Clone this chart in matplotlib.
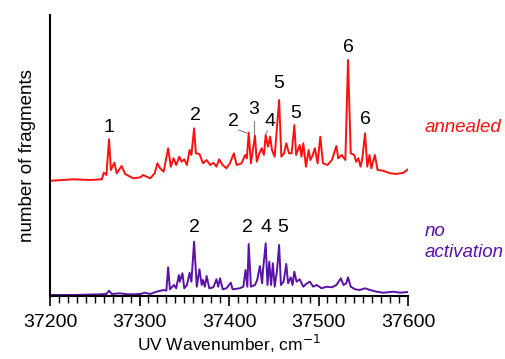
import matplotlib.pyplot as plt
from matplotlib.ticker import MultipleLocator

# annealed spectrum (wavenumber, fragment signal)
wn_annealed = [37202, 37226, 37245, 37258, 37260, 37263, 37266, 37268, 37272, 37274.5,
               37277, 37280, 37284, 37293, 37301, 37304, 37312, 37317, 37320, 37323,
               37327, 37332, 37335, 37338, 37341, 37344.5, 37347, 37350, 37353, 37356,
               37358, 37361, 37363, 37367, 37371, 37375, 37379, 37382.5, 37386, 37389,
               37393, 37397, 37401, 37405.5, 37408.5, 37414, 37418, 37420, 37422, 37424.5,
               37429, 37431, 37434, 37436.5, 37439, 37441, 37443.5, 37446, 37448, 37451,
               37456, 37458.5, 37461.5, 37464, 37467, 37470, 37473, 37475, 37479, 37481,
               37483, 37486, 37489, 37491, 37493.5, 37496, 37499, 37502, 37505, 37510,
               37515, 37520, 37522, 37526, 37530, 37533, 37536, 37540, 37542, 37544.5,
               37547, 37549, 37552, 37554.5, 37557, 37559, 37563, 37566, 37572, 37580,
               37587, 37595, 37600]
sig_annealed = [0.3, 1.7, 1.0, 1.7, 8.3, 6.0, 41.7, 11.0, 18.3, 7.7,
                11.0, 15.0, 7.0, 2.7, 3.7, 6.0, 2.7, 7.7, 17.7, 12.7,
                9.3, 32.7, 14.3, 22.7, 16.0, 24.3, 19.3, 21.7, 16.0, 31.0,
                26.0, 52.7, 27.7, 27.0, 17.7, 21.0, 16.0, 18.3, 14.3, 21.7,
                16.0, 12.7, 17.7, 27.7, 16.0, 17.7, 26.0, 22.7, 48.3, 17.7,
                45.3, 19.3, 27.7, 32.7, 26.0, 46.0, 34.3, 44.3, 31.0, 24.3,
                81.0, 24.3, 27.7, 37.7, 27.7, 27.7, 56.0, 26.0, 36.0, 24.3,
                37.7, 14.3, 31.0, 21.0, 26.0, 32.7, 17.7, 44.3, 17.7, 16.0,
                21.0, 35.0, 22.7, 26.0, 21.0, 121.0, 27.7, 26.0, 19.3, 22.7,
                14.3, 22.7, 47.7, 14.3, 26.0, 12.7, 26.0, 11.0, 10.3, 7.7,
                7.0, 8.3, 11.7]

# no activation spectrum
wn_noact = [37202, 37226, 37256, 37263, 37266, 37269, 37278, 37286, 37293, 37301,
            37306, 37312, 37319, 37327, 37330, 37332, 37334, 37338.5, 37341, 37344,
            37345, 37348, 37350, 37353, 37356, 37358, 37361, 37364, 37367, 37369.5,
            37371, 37373, 37375, 37378, 37382.5, 37386, 37388, 37390, 37393, 37397,
            37402, 37404, 37412, 37416, 37418.5, 37420.5, 37422, 37424.5, 37429, 37431.5,
            37434.5, 37437, 37438, 37441, 37443, 37445, 37447, 37449, 37451, 37453.5,
            37456, 37458, 37461, 37464, 37466, 37469, 37471, 37473, 37475.5, 37479,
            37483, 37487, 37490.5, 37494, 37498, 37503.5, 37509, 37515, 37520, 37525,
            37528, 37531, 37533, 37536, 37541, 37546, 37552, 37557.5, 37565, 37572,
            37584, 37591, 37600]
sig_noact = [1.0, 1.0, 1.7, 2.0, 5.3, 2.0, 2.7, 1.7, 1.7, 2.0,
             3.3, 2.0, 4.3, 6.0, 5.3, 28.7, 6.7, 11.0, 7.7, 21.0,
             14.3, 22.7, 7.7, 11.0, 23.3, 14.3, 54.3, 9.3, 26.7, 11.0,
             16.0, 9.3, 20.0, 7.7, 8.7, 16.7, 9.3, 17.7, 6.7, 7.7,
             13.3, 6.7, 7.7, 9.3, 26.0, 9.3, 52.0, 9.3, 11.0, 16.0,
             30.0, 12.7, 26.0, 52.7, 11.0, 34.3, 11.0, 32.7, 9.3, 24.3,
             51.0, 11.0, 14.3, 32.0, 12.7, 18.7, 11.0, 24.3, 14.3, 16.7,
             9.3, 12.7, 14.3, 9.3, 11.0, 7.7, 9.3, 8.7, 11.0, 17.7,
             11.0, 12.7, 18.7, 9.3, 6.7, 6.0, 7.7, 6.0, 4.3, 3.3,
             4.3, 3.3, 4.0]

offset = 115

# peak assignments
lab_annealed = ['1', '2', '2', '3', '4', '5', '5', '6', '6']
lab_annealed_x = [37266, 37362, 37404.5, 37428, 37446, 37456, 37474, 37534, 37553]
lab_annealed_y = [169, 180, 175, 186, 175, 213, 183, 249, 176]
lab_noact = ['2', '2', '4', '5']
lab_noact_x = [37361, 37421, 37441, 37460]

red = '#ff1010'
purple = '#5a12a8'
font = 'Liberation Sans'

fig = plt.figure(figsize=(5.06, 3.59), dpi=100)
ax = fig.add_axes([50 / 506, 63 / 359, 358 / 506, 281 / 359])

ax.plot(wn_noact, sig_noact, color=purple, lw=1.4)
ax.plot(wn_annealed, [s + offset for s in sig_annealed], color=red, lw=1.4)

for t, x, y in zip(lab_annealed, lab_annealed_x, lab_annealed_y):
    ax.text(x, y, t, ha='center', va='center', fontsize=14, family=font)
for t, x in zip(lab_noact, lab_noact_x):
    ax.text(x, 68, t, ha='center', va='center', fontsize=14, family=font)

# little leader lines for the crowded labels
ax.plot([37411, 37420], [166, 163], color='gray', lw=0.8)
ax.plot([37428, 37428], [175, 162], color='gray', lw=0.8)
ax.plot([37443, 37441], [165, 162], color='gray', lw=0.8)

ax.set_xlim(37200, 37600)
ax.set_ylim(0, 281)
ax.xaxis.set_major_locator(MultipleLocator(100))
ax.xaxis.set_minor_locator(MultipleLocator(10))
ax.tick_params(axis='x', which='major', length=7, width=1.2, labelsize=14,
               direction='out', pad=6)
ax.tick_params(axis='x', which='minor', length=5, width=1.0, direction='out')
ax.set_yticks([])
for lab in ax.get_xticklabels():
    lab.set_family(font)
ax.spines['top'].set_visible(False)
ax.spines['right'].set_visible(False)
ax.spines['left'].set_linewidth(1.5)
ax.spines['bottom'].set_linewidth(1.5)

ax.set_xlabel('UV Wavenumber, cm$^{-1}$', fontsize=12.5, family=font, labelpad=1)
ax.set_ylabel('number of fragments', fontsize=13.5, family=font, labelpad=10)

fig.text(425 / 506, 1 - 128 / 359, 'annealed', color=red, style='italic',
         fontsize=13.5, va='center', family=font)
fig.text(425 / 506, 1 - 242 / 359, 'no\nactivation', color=purple, style='italic',
         fontsize=13.5, va='center', family=font, linespacing=1.25)

fig.savefig('out.png', dpi=100)
